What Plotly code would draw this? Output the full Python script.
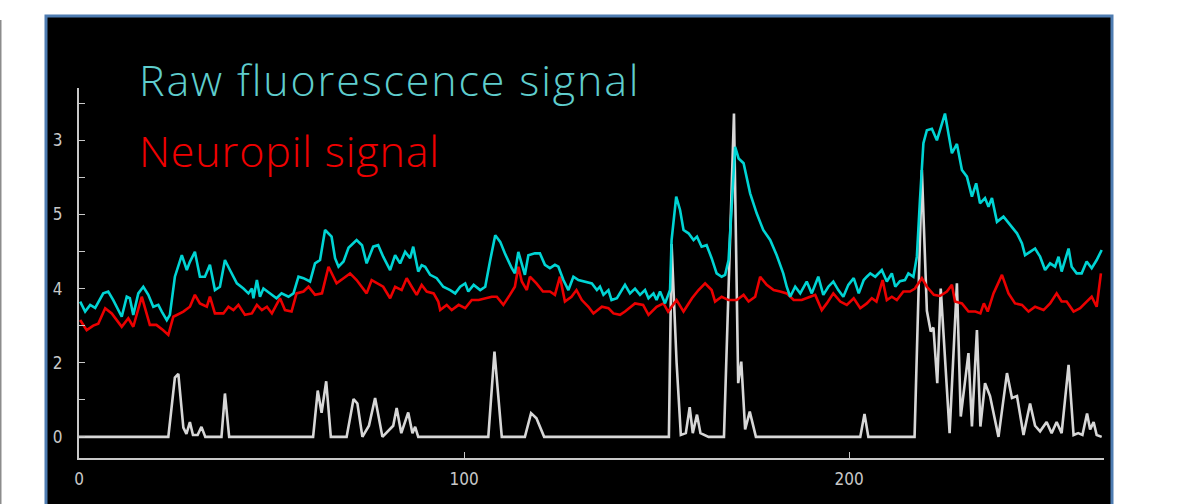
import plotly.graph_objects as go

# ---------------- data ----------------
raw_t = [0.3,1.6,2.9,4.2,6.3,7.6,8.9,11.1,12.4,13.2,14.1,15.4,16.7,18.0,19.3,20.6,21.5,22.8,23.6,24.9,
         26.7,28.0,28.8,30.1,31.4,32.7,34.0,35.3,36.6,37.9,39.2,41.0,42.7,44.0,44.9,45.3,46.2,47.0,47.9,49.6,
         51.3,52.6,54.4,55.7,57.0,58.3,60.0,61.3,62.6,63.9,65.6,66.5,67.4,68.7,70.0,72.1,73.5,74.7,76.4,77.7,
         79.0,80.8,82.1,83.4,84.7,86.0,86.8,88.1,89.0,89.9,91.2,92.9,94.6,96.4,97.7,99.0,100.3,101.1,102.5,104.2,
         105.5,106.8,108.1,109.4,110.6,112.4,113.2,114.1,115.0,115.8,116.7,118.4,119.7,121.0,122.3,123.6,124.5,125.8,127.1,128.4,
         129.7,131.4,133.2,134.5,135.3,136.2,137.5,138.3,139.7,141.8,143.1,144.4,145.7,147.0,147.9,149.2,150.0,150.9,152.2,153.5,
         153.9,155.1,156.1,157.0,158.3,159.6,160.5,161.7,163.0,164.3,165.6,166.9,167.8,168.7,169.5,170.4,171.3,172.6,174.3,176.0,
         177.7,179.5,181.2,182.9,183.8,184.7,186.0,187.3,189.0,190.3,192.0,193.3,194.6,195.9,197.2,198.5,199.8,201.2,202.5,203.8,
         204.6,205.5,206.8,208.5,209.8,211.1,212.0,213.2,214.5,215.4,216.7,217.6,218.4,219.3,220.2,221.5,222.8,223.6,224.9,225.8,
         226.7,228.0,229.3,230.6,231.9,233.0,234.0,235.3,236.2,237.1,238.4,240.1,241.8,243.6,244.9,245.7,247.0,248.3,249.6,250.9,
         252.2,253.5,254.4,255.2,257.0,257.8,259.1,260.4,261.7,263.0,264.3,265.6]
raw_v = [3.65,3.38,3.56,3.48,3.87,3.92,3.69,3.24,3.78,3.74,3.29,3.87,4.05,3.83,3.51,3.56,3.38,3.15,3.29,4.32,
         4.90,4.50,4.72,4.99,4.32,4.32,4.64,3.96,4.05,4.77,4.50,4.14,4.00,3.87,4.00,3.74,4.23,3.78,4.00,3.87,
         3.74,3.87,3.78,3.87,4.32,4.28,4.19,4.68,4.77,5.58,5.40,4.82,4.59,4.73,5.10,5.31,5.17,4.68,5.13,5.17,
         4.86,4.50,4.90,4.68,4.99,4.82,5.13,4.46,4.63,4.59,4.37,4.28,4.05,3.96,3.87,4.05,4.14,3.92,4.10,3.96,
         4.05,4.77,5.44,5.26,4.95,4.55,4.41,4.99,4.68,4.37,4.90,4.95,4.95,4.64,4.55,4.64,4.59,4.23,3.96,4.32,
         4.23,4.19,4.14,3.96,4.05,3.83,3.96,3.69,3.74,4.10,3.87,4.00,3.83,3.96,3.74,3.87,3.69,3.92,3.60,3.96,
         5.31,6.48,6.12,5.58,5.49,5.31,5.40,5.13,5.17,4.82,4.41,4.32,4.37,4.77,6.39,7.82,7.51,7.38,6.57,6.03,
         5.58,5.31,4.90,4.41,4.05,3.78,4.05,3.87,4.19,3.87,4.32,3.83,4.05,4.19,3.96,3.78,4.10,4.28,3.87,4.23,
         4.32,4.41,4.32,4.50,4.19,4.41,4.05,4.20,4.23,4.41,4.32,4.86,6.39,7.92,8.27,8.31,8.00,8.27,8.72,8.18,
         7.65,7.90,7.20,7.02,6.48,6.84,6.30,6.44,6.21,6.44,5.80,5.94,5.71,5.49,5.22,4.90,4.99,5.08,4.86,4.50,
         4.68,4.59,4.86,4.46,5.08,4.59,4.41,4.41,4.73,4.55,4.77,5.04]

np_t = [0.3,2.0,3.7,5.0,6.8,8.5,11.1,12.8,14.1,16.3,18.4,20.1,21.8,23.2,24.5,27.1,28.8,30.1,31.4,33.2,
        34.0,35.3,37.5,38.8,40.1,41.4,43.1,44.9,46.2,47.5,48.8,50.1,52.2,53.5,55.2,56.5,58.3,59.6,61.3,63.1,
        64.8,66.9,68.7,70.4,72.1,74.7,76.0,77.7,79.0,80.8,82.1,83.8,85.1,86.4,87.7,89.0,90.3,92.1,93.3,93.8,
        95.5,96.8,98.6,100.3,102.0,103.8,105.5,107.2,108.5,110.2,111.9,113.2,114.1,115.0,116.3,117.1,118.8,120.5,122.3,123.6,
        124.9,126.2,127.9,129.2,130.6,132.3,133.6,135.8,137.5,138.8,140.5,141.8,144.4,146.5,147.9,150.0,151.8,153.0,155.2,157.0,
        159.2,160.9,162.6,164.3,165.2,166.9,168.7,170.8,172.6,173.9,175.6,176.9,178.6,180.4,182.1,183.8,185.6,187.7,189.9,191.2,
        192.9,194.2,195.9,197.7,199.4,201.2,202.9,204.6,205.9,207.1,208.7,209.8,211.1,212.4,214.1,215.8,217.1,218.9,220.2,222.0,
        223.6,225.4,226.7,227.5,229.3,231.0,232.8,234.1,235.0,236.0,237.5,239.7,241.4,243.1,244.9,246.6,248.3,250.5,252.2,253.9,
        255.2,256.5,258.3,260.0,261.7,263.0,264.3,265.4]
np_v = [3.15,2.88,3.00,3.05,3.47,3.33,2.97,3.20,2.97,3.78,3.02,3.02,2.88,2.75,3.24,3.38,3.51,3.83,3.60,3.51,
        3.78,3.33,3.33,3.51,3.42,3.56,3.29,3.33,3.56,3.42,3.51,3.33,3.74,3.42,3.38,3.87,3.92,4.05,3.83,3.87,
        4.59,4.14,4.28,4.41,4.23,3.87,4.23,4.14,4.05,3.74,4.05,3.96,4.28,4.05,3.83,4.10,3.92,3.87,3.65,3.42,
        3.56,3.42,3.56,3.47,3.69,3.69,3.74,3.78,3.78,3.56,3.83,4.05,4.59,4.19,3.96,4.32,4.14,3.92,3.92,3.83,
        4.32,3.65,3.78,3.96,3.69,3.51,3.33,3.51,3.47,3.33,3.29,3.38,3.60,3.56,3.29,3.51,3.60,3.38,3.69,3.38,
        3.74,3.96,4.14,3.96,3.65,3.78,3.69,3.69,3.83,3.65,3.78,4.32,4.10,3.96,3.92,3.87,3.69,3.69,3.78,3.83,
        3.42,3.60,3.87,3.65,3.56,3.74,3.47,3.60,3.74,3.65,4.23,3.69,3.78,3.69,3.92,3.92,4.00,4.28,4.05,3.83,
        3.80,3.92,4.10,3.65,3.60,3.38,3.38,3.33,3.60,3.38,3.87,4.37,3.87,3.60,3.56,3.38,3.51,3.42,3.60,3.87,
        3.65,3.65,3.38,3.47,3.65,3.78,3.51,4.41]

sp_t = [0,23.2,24.9,25.8,27.1,27.9,28.8,29.6,30.8,31.8,32.8,37.0,37.9,39.0,60.8,62.0,63.0,64.2,65.4,69.5,
        71.3,72.3,73.6,75.3,76.9,78.8,81.6,82.5,83.7,85.5,86.6,87.3,88.1,106.3,107.9,109.8,115.8,117.4,118.8,120.8,
        153.2,153.9,155.2,156.3,157.6,158.6,159.4,160.5,161.4,162.6,163.5,167.5,170.1,171.2,172.0,173.0,174.2,175.8,202.9,204.0,
        205.0,217.0,218.9,220.2,221.2,221.9,222.9,223.8,224.9,226.1,228.0,229.0,231.0,231.9,233.2,234.1,235.3,236.6,238.8,241.0,
        242.3,243.6,245.3,247.0,248.3,249.6,251.3,252.6,253.9,255.2,257.0,258.3,259.5,260.6,261.8,262.6,263.5,264.3,265.6]
sp_v = [0,0,1.60,1.70,0.25,0.08,0.40,0.05,0.05,0.27,0,0,1.17,0,0,1.25,0.65,1.50,0,0,
        1.02,0.90,0,0.30,1.05,0,0.30,0.78,0.10,0.66,0.10,0.27,0,0,2.30,0,0,0.64,0.50,0,
        0,5.20,2.00,0.05,0.10,0.80,0.10,0.60,0.10,0.05,0,0,8.72,1.45,2.03,0.20,0.68,0,0,0.62,
        0,0,7.20,3.40,2.84,2.95,1.45,4.00,2.16,0.10,4.14,0.55,2.26,0.28,2.88,0.28,1.45,1.10,0,1.72,
        1.05,1.10,0.05,0.90,0.30,0.15,0.40,0.10,0.40,0.10,1.94,0.05,0.10,0.05,0.63,0.20,0.40,0.05,0]

x_tick_vals = [0, 100, 200]
x_tick_text = ["0", "100", "200"]
y_tick_vals = [0, 2, 4, 6, 8]
y_tick_text = ["0", "2", "4", "5", "3"]
y_minor_vals = [1, 3, 5, 7, 9]

label_raw = "Raw fluorescence signal"
label_np = "Neuropil signal"

# ---------------- layout geometry ----------------
W, H = 1185, 504
L, R, T, B = 79, 1104, 88, 458   # plot area in pixels


def px(x):
    return (x - L) / (R - L)


def py(y):
    return (B - y) / (B - T)


def spaced(s, sp):
    return '<span style="letter-spacing:%spx">%s</span>' % (sp, s)


AX = "rgb(200,200,200)"
tick_font = dict(family="Liberation Sans Narrow, DejaVu Sans Condensed, sans-serif",
                 size=17, color="rgb(200,200,200)")
title_family = "Open Sans, Lato, sans-serif"

fig = go.Figure()
fig.add_trace(go.Scatter(x=sp_t, y=sp_v, mode="lines",
                         line=dict(color="rgb(215,215,215)", width=2.6), hoverinfo="skip"))
fig.add_trace(go.Scatter(x=np_t, y=np_v, mode="lines",
                         line=dict(color="rgb(235,0,0)", width=2.6), hoverinfo="skip"))
fig.add_trace(go.Scatter(x=raw_t, y=raw_v, mode="lines",
                         line=dict(color="rgb(0,212,212)", width=2.6), hoverinfo="skip"))

fig.update_layout(
    width=W, height=H,
    margin=dict(l=L, r=W - R, t=T, b=H - B, pad=0),
    paper_bgcolor="white",
    plot_bgcolor="black",
    showlegend=False,
    xaxis=dict(range=[0, 266.2], showgrid=False, zeroline=False,
               showline=True, linecolor=AX, linewidth=2,
               ticks="inside", ticklen=6, tickwidth=1, tickcolor=AX,
               tickmode="array", tickvals=x_tick_vals, ticktext=x_tick_text,
               tickfont=tick_font, ticklabelstandoff=5),
    yaxis=dict(range=[-0.57, 9.41], showgrid=False, zeroline=False,
               showline=True, linecolor=AX, linewidth=2,
               ticks="inside", ticklen=6, tickwidth=1, tickcolor=AX,
               tickmode="array", tickvals=y_tick_vals, ticktext=y_tick_text,
               tickfont=tick_font, ticklabelstandoff=11,
               minor=dict(tickmode="array", tickvals=y_minor_vals, ticks="inside",
                          ticklen=6, tickwidth=1, tickcolor=AX, showgrid=False)),
    shapes=[
        dict(type="rect", xref="paper", yref="paper", layer="below",
             x0=px(46), x1=px(1112), y0=py(530), y1=py(16),
             fillcolor="black", line=dict(color="rgb(79,125,178)", width=3)),
        dict(type="line", xref="paper", yref="paper", layer="below",
             x0=px(0.5), x1=px(0.5), y0=py(20), y1=py(520),
             line=dict(color="rgb(140,140,140)", width=2)),
    ],
    annotations=[
        dict(text=spaced(label_raw, 1.85), xref="paper", yref="paper", x=px(137), y=py(79),
             xanchor="left", yanchor="middle", showarrow=False,
             font=dict(family=title_family, size=43, weight=300, color="rgb(95,205,205)")),
        dict(text=spaced(label_np, 0.85), xref="paper", yref="paper", x=px(137), y=py(150),
             xanchor="left", yanchor="middle", showarrow=False,
             font=dict(family=title_family, size=43, weight=300, color="rgb(240,0,0)")),
    ],
)

fig.write_html("out.html")
